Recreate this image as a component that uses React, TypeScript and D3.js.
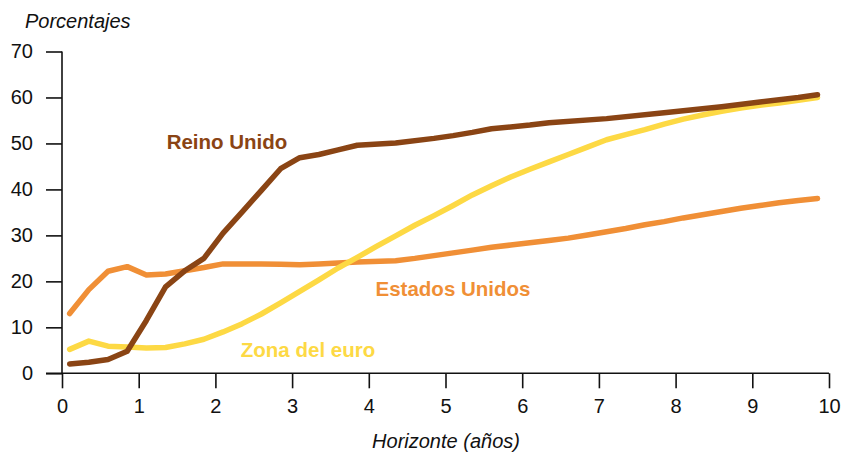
import * as d3 from 'd3';
import React, { useRef, useEffect } from 'react';

// horizon (years) / percent pairs
const reinoUnido: [number, number][] = [
  [0.1, 2.0], [0.35, 2.4], [0.6, 3.0], [0.85, 4.8], [1.1, 11.5], [1.35, 18.8],
  [1.6, 22.3], [1.85, 25.0], [2.1, 30.5], [2.35, 35.1], [2.6, 39.8], [2.85, 44.5],
  [3.1, 46.9], [3.35, 47.6], [3.6, 48.6], [3.85, 49.6], [4.35, 50.1], [4.85, 51.1],
  [5.1, 51.7], [5.35, 52.4], [5.6, 53.2], [6.1, 54.0], [6.35, 54.5], [7.1, 55.4],
  [7.85, 56.7], [8.6, 58.0], [9.1, 59.0], [9.6, 60.0], [9.85, 60.6]
];

const zonaEuro: [number, number][] = [
  [0.1, 5.2], [0.35, 7.0], [0.6, 5.9], [0.85, 5.7], [1.1, 5.5], [1.35, 5.6],
  [1.6, 6.4], [1.85, 7.4], [2.1, 9.0], [2.35, 10.8], [2.6, 12.9], [2.85, 15.3],
  [3.1, 17.8], [3.35, 20.3], [3.6, 22.9], [3.85, 25.2], [4.1, 27.6], [4.35, 29.9],
  [4.6, 32.2], [4.85, 34.3], [5.1, 36.5], [5.35, 38.8], [5.6, 40.8], [5.85, 42.7],
  [6.1, 44.4], [6.35, 46.0], [6.6, 47.6], [6.85, 49.2], [7.1, 50.8], [7.35, 51.9],
  [7.6, 53.0], [7.85, 54.2], [8.1, 55.3], [8.35, 56.2], [8.6, 57.0], [8.85, 57.7],
  [9.1, 58.3], [9.35, 58.8], [9.6, 59.4], [9.85, 60.0]
];

const estadosUnidos: [number, number][] = [
  [0.1, 13.0], [0.35, 18.2], [0.6, 22.2], [0.85, 23.2], [1.1, 21.4], [1.35, 21.6],
  [1.6, 22.3], [1.85, 23.0], [2.1, 23.8], [2.35, 23.8], [2.6, 23.8], [2.85, 23.7],
  [3.1, 23.6], [3.35, 23.8], [3.6, 24.0], [3.85, 24.2], [4.35, 24.5], [4.6, 25.0],
  [4.85, 25.6], [5.1, 26.2], [5.35, 26.8], [5.6, 27.4], [5.85, 27.9], [6.1, 28.4],
  [6.35, 28.9], [6.6, 29.4], [6.85, 30.1], [7.1, 30.8], [7.35, 31.5], [7.6, 32.3],
  [7.85, 33.0], [8.1, 33.8], [8.35, 34.5], [8.6, 35.2], [8.85, 35.9], [9.1, 36.5],
  [9.35, 37.1], [9.6, 37.6], [9.85, 38.0]
];

const xTicks = [0, 1, 2, 3, 4, 5, 6, 7, 8, 9, 10];
const yTicks = [0, 10, 20, 30, 40, 50, 60, 70];

const series = [
  { name: 'Estados Unidos', data: estadosUnidos, color: '#f08f36', label: [453, 288] },
  { name: 'Zona del euro', data: zonaEuro, color: '#fdd944', label: [308, 349] },
  { name: 'Reino Unido', data: reinoUnido, color: '#8a4414', label: [227, 141] }
];

const W = 841, H = 456;
const font = '"Liberation Sans", Arial, Helvetica, sans-serif';

export default function App() {
  const ref = useRef<SVGSVGElement>(null);

  useEffect(() => {
    const svg = d3.select(ref.current);
    svg.selectAll('*').remove();

    const x = d3.scaleLinear([0, 10], [62, 829]);
    const y = d3.scaleLinear([0, 70], [373.3, 51.5]);

    const line = d3.line<[number, number]>()
      .x(d => x(d[0]))
      .y(d => y(d[1]));

    // y axis
    const gy = svg.append('g')
      .attr('transform', 'translate(62,0)')
      .call(d3.axisLeft(y).tickValues(yTicks).tickSize(16).tickPadding(13).tickSizeOuter(0));
    // x axis
    const gx = svg.append('g')
      .attr('transform', `translate(0,${y(0)})`)
      .call(d3.axisBottom(x).tickValues(xTicks).tickSize(15).tickPadding(9).tickSizeOuter(0));

    [gx, gy].forEach(g => {
      g.select('.domain').attr('stroke', '#111').attr('stroke-width', 1.6);
      g.selectAll('.tick line').attr('stroke', '#111').attr('stroke-width', 1.6);
      g.selectAll('.tick text')
        .attr('fill', '#111')
        .style('font-family', font)
        .style('font-size', '20px');
    });
    gy.select('.domain').attr('d', `M0,${y(70)}V${y(0)}`);
    gx.select('.domain').attr('d', `M46,0H${x(10)}`);
    gx.selectAll('.tick text').attr('dy', '0.8em');

    for (const s of series) {
      svg.append('path')
        .datum(s.data)
        .attr('fill', 'none')
        .attr('stroke', s.color)
        .attr('stroke-width', 5.5)
        .attr('stroke-linecap', 'round')
        .attr('stroke-linejoin', 'round')
        .attr('d', line);

      svg.append('text')
        .attr('x', s.label[0])
        .attr('y', s.label[1])
        .attr('text-anchor', 'middle')
        .attr('dominant-baseline', 'central')
        .attr('fill', s.color)
        .style('font-family', font)
        .style('font-weight', 'bold')
        .style('font-size', '20.5px')
        .text(s.name);
    }

    svg.append('text')
      .attr('x', 25).attr('y', 28)
      .attr('fill', '#111')
      .style('font-family', font)
      .style('font-style', 'italic')
      .style('font-size', '20px')
      .text('Porcentajes');

    svg.append('text')
      .attr('x', 446).attr('y', 448)
      .attr('text-anchor', 'middle')
      .attr('fill', '#111')
      .style('font-family', font)
      .style('font-style', 'italic')
      .style('font-size', '20px')
      .text('Horizonte (años)');
  }, []);

  return (
    <svg ref={ref} width={W} height={H}
      style={{ position: 'absolute', left: 0, top: 0, background: '#fff' }} />
  );
}
